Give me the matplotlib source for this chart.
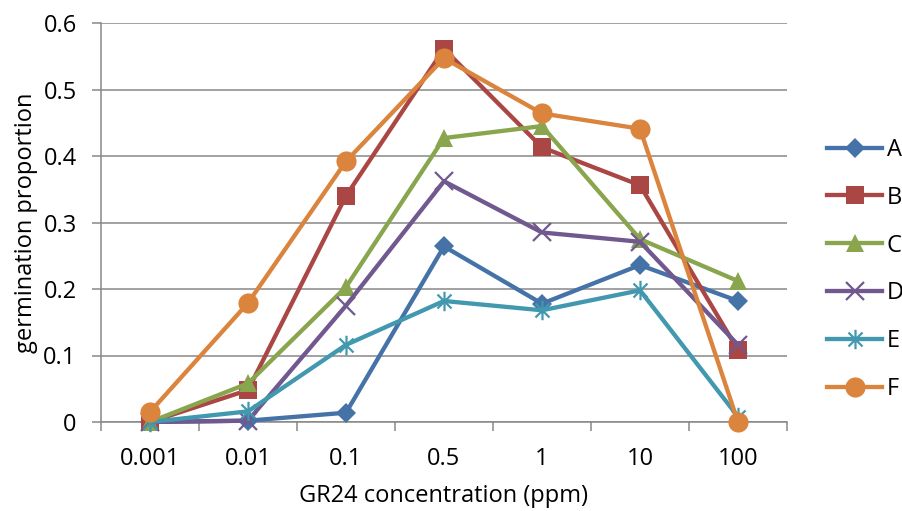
import matplotlib
matplotlib.use("Agg")
import matplotlib.pyplot as plt
from matplotlib.path import Path

plt.rcParams['font.family'] = ['Open Sans', 'DejaVu Sans']

concentrations = ["0.001", "0.01", "0.1", "0.5", "1", "10", "100"]
series_names = ["A", "B", "C", "D", "E", "F"]
A = [0.000, 0.002, 0.014, 0.264, 0.178, 0.236, 0.182]
B = [0.000, 0.048, 0.340, 0.561, 0.413, 0.356, 0.108]
C = [0.000, 0.058, 0.203, 0.427, 0.445, 0.275, 0.212]
D = [0.000, 0.002, 0.175, 0.362, 0.285, 0.271, 0.116]
E = [0.000, 0.016, 0.116, 0.182, 0.168, 0.198, 0.008]
F = [0.015, 0.179, 0.392, 0.547, 0.464, 0.441, 0.000]
y_ticks = [0, 0.1, 0.2, 0.3, 0.4, 0.5, 0.6]
y_tick_labels = ["0", "0.1", "0.2", "0.3", "0.4", "0.5", "0.6"]

colors = ["#4572A7", "#AA4643", "#89A54E", "#71588F", "#4198AF", "#DB843D"]

# asterisk: vertical bar plus a 45-degree cross
star = Path([(0, -1), (0, 1), (-0.72, -0.72), (0.72, 0.72), (-0.72, 0.72), (0.72, -0.72)],
            [Path.MOVETO, Path.LINETO, Path.MOVETO, Path.LINETO, Path.MOVETO, Path.LINETO])

styles = [
    dict(marker="D", markersize=10.5, markeredgewidth=0),
    dict(marker="s", markersize=13, markeredgewidth=0),
    dict(marker="^", markersize=13, markeredgewidth=0),
    dict(marker="x", markersize=13, markeredgewidth=1.6),
    dict(marker=star, markersize=14, markeredgewidth=1.6),
    dict(marker="o", markersize=14.5, markeredgewidth=0),
]

FS = 17
grid_c = "#878787"

fig = plt.figure(figsize=(9.03, 5.11), dpi=100)
ax = fig.add_axes([101 / 903, 1 - 422 / 511, (787 - 101) / 903, (422 - 23) / 511])

x = list(range(len(concentrations)))
handles = []
for vals, c, st in zip([A, B, C, D, E, F], colors, styles):
    ln, = ax.plot(x, vals, color=c, lw=3.1, markerfacecolor=c, markeredgecolor=c,
                  clip_on=False, zorder=3, **st)
    handles.append(ln)

ax.set_xlim(-0.5, 6.5)
ax.set_ylim(0, 0.6)
ax.set_yticks(y_ticks)
ax.set_yticklabels(y_tick_labels)
ax.yaxis.grid(True, color=grid_c, lw=1.1)
ax.set_axisbelow(True)

ax.set_xticks(x)
ax.set_xticklabels(concentrations)
ax.set_xticks([i - 0.5 for i in range(len(concentrations) + 1)], minor=True)
ax.tick_params(axis="x", which="major", length=0, pad=18, labelsize=FS)
ax.tick_params(axis="x", which="minor", length=6.5, width=1.1, color=grid_c, direction="out")
ax.tick_params(axis="y", length=6.5, width=1.1, color=grid_c, pad=11, labelsize=FS)

for s in ("top", "right"):
    ax.spines[s].set_visible(False)
for s in ("left", "bottom"):
    ax.spines[s].set_color(grid_c)
    ax.spines[s].set_linewidth(1.1)

ax.set_xlabel("GR24 concentration (ppm)", fontsize=FS, labelpad=9)
ax.set_ylabel("germination proportion", fontsize=FS, labelpad=4)

fig.legend(handles, series_names, loc="center left",
           bbox_to_anchor=(827 / 903, 1 - 269.5 / 511), frameon=False, fontsize=FS,
           borderpad=0, borderaxespad=0,
           handlelength=2.33, labelspacing=1.01, handletextpad=0.2)

fig.savefig("out.png", dpi=100)
